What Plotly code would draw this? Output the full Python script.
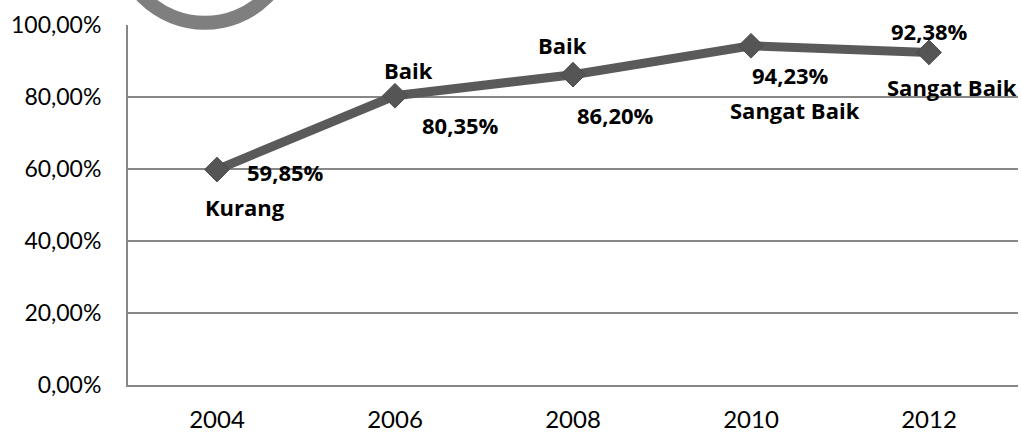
import plotly.graph_objects as go

years = ["2004", "2006", "2008", "2010", "2012"]
values = [59.85, 80.35, 86.20, 94.23, 92.38]
value_labels = ["59,85%", "80,35%", "86,20%", "94,23%", "92,38%"]
categories = ["Kurang", "Baik", "Baik", "Sangat Baik", "Sangat Baik"]

# label offsets (pixels) relative to each point
val_off = [(68, -2), (65, -29), (42, -40), (39, -29), (0, 21)]
cat_off = [(28, -37), (13, 26), (-11, 30), (44, -64), (23, -35)]

GRID = "#878787"
LINE = "#5a5a5a"
TICKFONT = "Lato"
LABELFONT = "Open Sans"

fig = go.Figure()
fig.add_trace(go.Scatter(
    x=years, y=values, mode="lines+markers",
    line=dict(color=LINE, width=9),
    marker=dict(symbol="diamond", size=19, color="#555555",
                line=dict(color="#4a4a4a", width=1)),
    hoverinfo="skip", showlegend=False,
))

annotations = []
for i, y in enumerate(years):
    annotations.append(dict(x=i, y=values[i], xref="x", yref="y", text="<b>%s</b>" % value_labels[i],
                            showarrow=False, xshift=val_off[i][0], yshift=val_off[i][1],
                            font=dict(family=LABELFONT, size=22, color="black")))
    annotations.append(dict(x=i, y=values[i], xref="x", yref="y", text="<b>%s</b>" % categories[i],
                            showarrow=False, xshift=cat_off[i][0], yshift=cat_off[i][1],
                            font=dict(family=LABELFONT, size=22, color="black")))

fig.update_layout(
    width=1022, height=432,
    margin=dict(l=128, r=4, t=25, b=47),
    paper_bgcolor="white", plot_bgcolor="white",
    separators=",.",
    annotations=annotations,
    shapes=[dict(type="circle", xref="paper", yref="paper",
                 x0=-0.0112, x1=0.184, y0=1.006, y1=1.49,
                 line=dict(color="#7f7f7f", width=14), layer="above")],
    xaxis=dict(type="category", showgrid=False, showline=True, linecolor=GRID, linewidth=2,
               ticks="", ticklabelstandoff=12, automargin=False,
               tickfont=dict(family=TICKFONT, size=24, color="black"),
               range=[-0.5, 4.5], fixedrange=True),
    yaxis=dict(range=[0, 100], dtick=20, tickformat=".2f", ticksuffix="%",
               showgrid=True, gridcolor=GRID, gridwidth=2, zeroline=False,
               showline=True, linecolor=GRID, linewidth=2, ticks="",
               ticklabelstandoff=20, automargin=False,
               tickfont=dict(family=TICKFONT, size=23, color="black"), fixedrange=True),
)

fig.write_html("out.html")
